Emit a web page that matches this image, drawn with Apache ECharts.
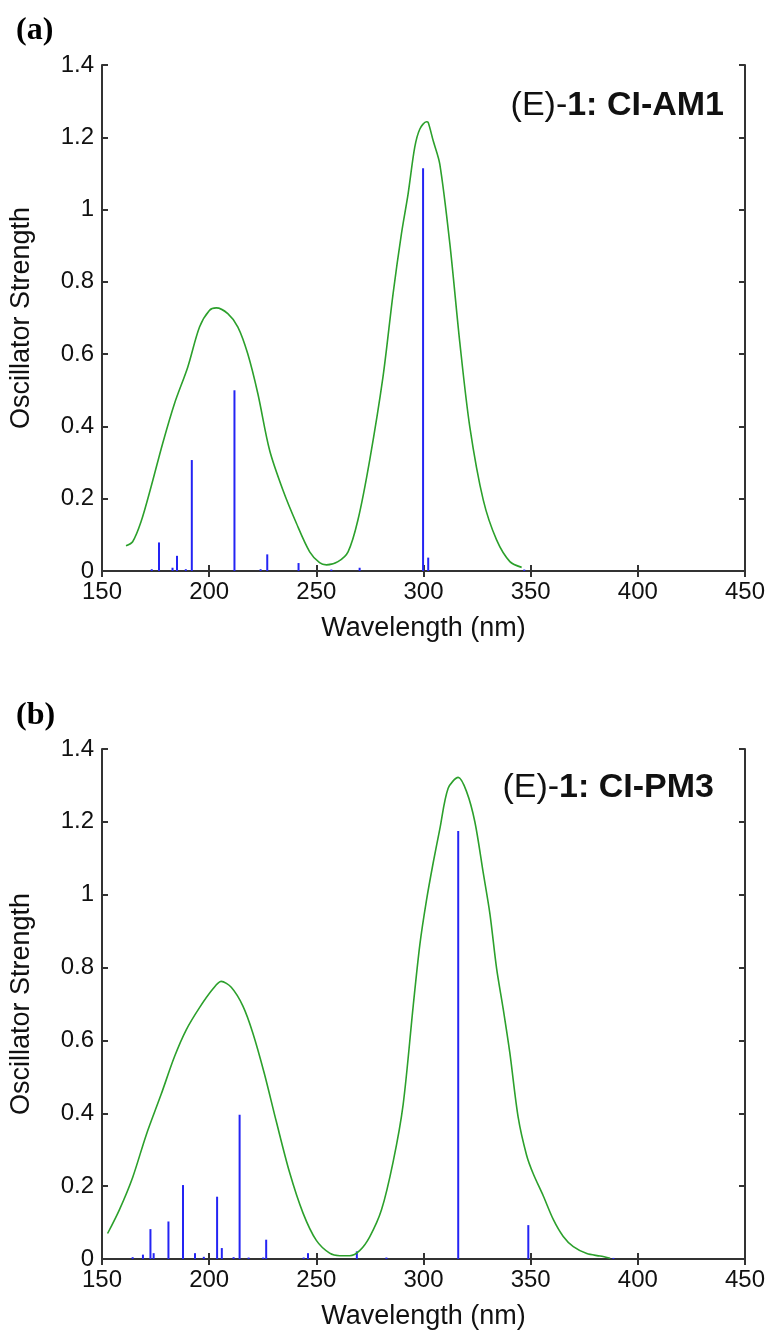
<!DOCTYPE html>
<html>
<head>
<meta charset="utf-8">
<script src="https://cdn.jsdelivr.net/npm/echarts@6/dist/echarts.min.js"></script>
<style>
  html, body { margin: 0; padding: 0; background: #fff; }
  #chart { width: 769px; height: 1332px; }
</style>
</head>
<body>
<div id="chart"></div>
<script>
// (a) CI-AM1 : broadened spectrum and stick transitions
var amCurveWave = [161.2, 164.3, 168.2, 172.9, 178.3, 183.8, 190.0, 195.5, 200.1, 203.3, 208.7, 213.4, 218.0, 222.7, 228.2, 234.4, 240.7, 246.9, 251.5, 254.7, 260.1, 264.8, 269.4, 274.9, 281.1, 285.8, 289.7, 292.8, 295.9, 298.3, 301.4, 302.2, 304.5, 307.6, 312.3, 317.0, 321.6, 327.9, 334.1, 340.3, 345.8];
var amCurveVal  = [0.070, 0.081, 0.136, 0.233, 0.353, 0.463, 0.564, 0.675, 0.721, 0.728, 0.712, 0.675, 0.601, 0.491, 0.334, 0.224, 0.132, 0.053, 0.023, 0.017, 0.026, 0.053, 0.141, 0.307, 0.537, 0.767, 0.933, 1.043, 1.172, 1.223, 1.243, 1.241, 1.191, 1.126, 0.905, 0.629, 0.399, 0.196, 0.086, 0.026, 0.010];
var amStickWave = [173.2, 176.6, 182.9, 185.0, 189.1, 191.9, 211.8, 224.0, 227.1, 241.7, 257.0, 270.2, 299.8, 302.2, 347.0];
var amStickVal  = [0.005, 0.079, 0.009, 0.042, 0.005, 0.307, 0.500, 0.005, 0.046, 0.022, 0.004, 0.009, 1.114, 0.037, 0.004];

// (b) CI-PM3
var pmCurveWave = [152.6, 158.1, 164.3, 170.6, 177.6, 183.8, 189.3, 195.5, 201.7, 205.6, 210.3, 215.7, 220.4, 225.8, 231.3, 237.5, 243.8, 250.0, 256.2, 260.9, 265.6, 270.2, 274.9, 280.4, 285.8, 290.5, 295.2, 298.3, 301.4, 304.5, 307.6, 311.5, 316.2, 320.1, 324.0, 327.9, 331.0, 334.1, 337.2, 340.3, 344.2, 348.1, 351.2, 355.9, 360.6, 365.2, 369.9, 376.2, 382.4, 387.1];
var pmCurveVal  = [0.070, 0.135, 0.224, 0.340, 0.452, 0.555, 0.629, 0.690, 0.741, 0.762, 0.746, 0.695, 0.620, 0.508, 0.378, 0.238, 0.126, 0.051, 0.016, 0.009, 0.009, 0.023, 0.061, 0.135, 0.266, 0.424, 0.695, 0.863, 0.985, 1.087, 1.180, 1.292, 1.322, 1.283, 1.199, 1.059, 0.947, 0.798, 0.686, 0.565, 0.388, 0.285, 0.234, 0.173, 0.108, 0.062, 0.034, 0.015, 0.008, 0.002];
var pmStickWave = [164.3, 169.1, 172.6, 174.1, 181.0, 187.8, 193.4, 197.5, 203.7, 205.9, 211.4, 214.2, 218.4, 225.2, 226.6, 244.1, 246.1, 268.9, 282.7, 316.2, 348.9, 388.6];
var pmStickVal  = [0.005, 0.012, 0.082, 0.016, 0.103, 0.203, 0.016, 0.006, 0.171, 0.030, 0.005, 0.396, 0.004, 0.004, 0.053, 0.004, 0.016, 0.021, 0.004, 1.175, 0.093, 0.003];

var panelTitles = ['(E)-', '1: CI-AM1', '(E)-', '1: CI-PM3'];

var FONT = '"Liberation Sans", Arial, sans-serif';
var SERIF = '"Liberation Serif", "Times New Roman", serif';
var frameColor = '#333333';
var curveColor = '#2ca02c';
var stickColor = '#2424f4';

function zip(xs, ys) {
  var out = [];
  for (var i = 0; i < xs.length; i++) out.push([xs[i], ys[i]]);
  return out;
}

var grids = [
  { left: 102, right: 24, top: 65, height: 506 },
  { left: 102, right: 24, top: 749, height: 510 }
];

var xAxes = [], yAxes = [];
grids.forEach(function (g, i) {
  // bottom x axis with labels, top one only mirrors the ticks
  xAxes.push({
    gridIndex: i, type: 'value', min: 150, max: 450, interval: 50,
    position: 'bottom',
    name: 'Wavelength (nm)', nameLocation: 'middle', nameGap: 44,
    nameTextStyle: { fontFamily: FONT, fontSize: 27, color: '#111' },
    axisLine: { lineStyle: { color: frameColor, width: 2 } },
    axisTick: { inside: true, length: 6, lineStyle: { color: frameColor, width: 2 } },
    axisLabel: { fontFamily: FONT, fontSize: 24, color: '#111', margin: 9 },
    splitLine: { show: false }
  });
  xAxes.push({
    gridIndex: i, type: 'value', min: 150, max: 450, interval: 50,
    position: 'top',
    axisLine: { lineStyle: { color: frameColor, width: 2 } },
    axisTick: { inside: true, length: 6, lineStyle: { color: frameColor, width: 2 } },
    axisLabel: { show: false },
    splitLine: { show: false }
  });
  yAxes.push({
    gridIndex: i, type: 'value', min: 0, max: 1.4, interval: 0.2,
    position: 'left',
    name: 'Oscillator Strength', nameLocation: 'middle', nameGap: 67, nameRotate: 90,
    nameTextStyle: { fontFamily: FONT, fontSize: 27, color: '#111' },
    axisLine: { show: true, lineStyle: { color: frameColor, width: 2 } },
    axisTick: { show: true, inside: true, length: 6, lineStyle: { color: frameColor, width: 2 } },
    axisLabel: { fontFamily: FONT, fontSize: 24, color: '#111', margin: 8 },
    splitLine: { show: false }
  });
  yAxes.push({
    gridIndex: i, type: 'value', min: 0, max: 1.4, interval: 0.2,
    position: 'right',
    axisLine: { show: true, lineStyle: { color: frameColor, width: 2 } },
    axisTick: { show: true, inside: true, length: 6, lineStyle: { color: frameColor, width: 2 } },
    axisLabel: { show: false },
    splitLine: { show: false }
  });
});

function stickSeries(idx, waves, vals) {
  return {
    type: 'custom',
    xAxisIndex: idx * 2, yAxisIndex: idx * 2,
    data: zip(waves, vals),
    clip: true,
    renderItem: function (params, api) {
      var p0 = api.coord([api.value(0), 0]);
      var p1 = api.coord([api.value(0), api.value(1)]);
      return {
        type: 'line',
        shape: { x1: p0[0], y1: p0[1], x2: p1[0], y2: p1[1] },
        style: { stroke: stickColor, lineWidth: 2 }
      };
    }
  };
}

function curveSeries(idx, waves, vals) {
  return {
    type: 'line',
    xAxisIndex: idx * 2, yAxisIndex: idx * 2,
    data: zip(waves, vals),
    showSymbol: false,
    smooth: 0.3,
    lineStyle: { color: curveColor, width: 1.6 },
    z: 3
  };
}

function panelTitle(normalPart, boldPart, right, top) {
  return {
    text: '{n|' + normalPart + '}{b|' + boldPart + '}', right: right, top: top,
    textStyle: { rich: {
      n: { fontFamily: FONT, fontSize: 34, fontWeight: 'normal', color: '#111' },
      b: { fontFamily: FONT, fontSize: 34, fontWeight: 'bold', color: '#111' }
    } }
  };
}

var chart = echarts.init(document.getElementById('chart'), null, { renderer: 'canvas' });

chart.setOption({
  backgroundColor: '#fff',
  animation: false,
  title: [
    { text: '(a)', left: 11, top: 10, textStyle: { fontFamily: SERIF, fontWeight: 'bold', fontSize: 32, color: '#000' } },
    { text: '(b)', left: 11, top: 695, textStyle: { fontFamily: SERIF, fontWeight: 'bold', fontSize: 32, color: '#000' } },
    panelTitle(panelTitles[0], panelTitles[1], 40, 84),
    panelTitle(panelTitles[2], panelTitles[3], 50, 766)
  ],
  grid: grids,
  xAxis: xAxes,
  yAxis: yAxes,
  series: [
    stickSeries(0, amStickWave, amStickVal),
    curveSeries(0, amCurveWave, amCurveVal),
    stickSeries(1, pmStickWave, pmStickVal),
    curveSeries(1, pmCurveWave, pmCurveVal)
  ]
});
</script>
</body>
</html>
